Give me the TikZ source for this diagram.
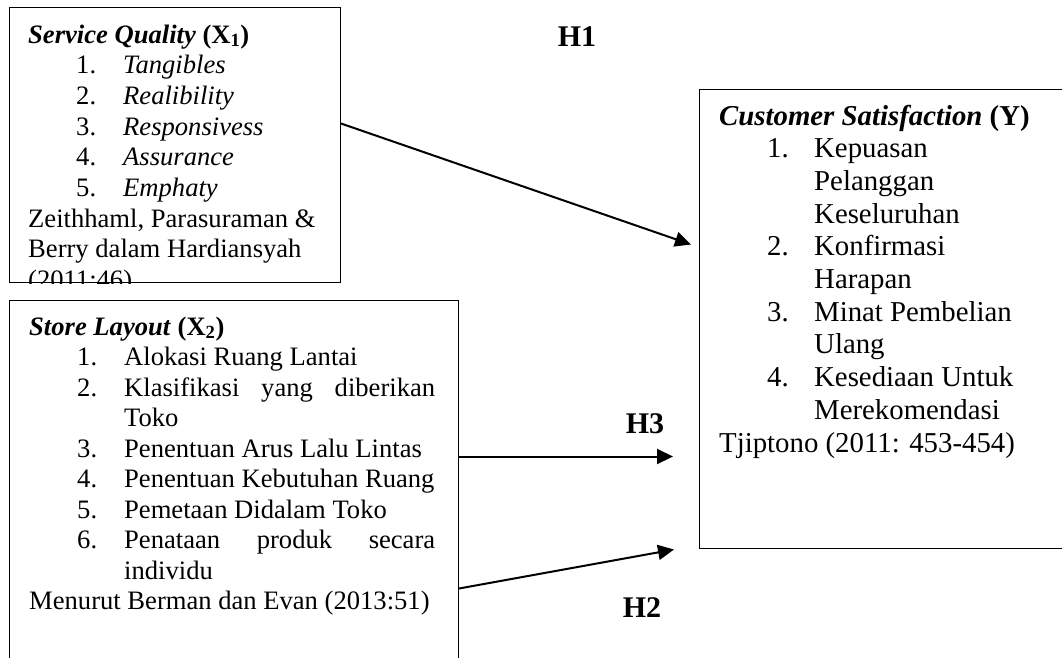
\documentclass[tikz,border=0pt]{standalone}
\usepackage{fontspec}
\setmainfont{Liberation Serif}
\usetikzlibrary{arrows.meta}
\newcommand\numitem[1]{\hspace*{48pt}\makebox[47pt][l]{#1}}
\newcommand\contline{\hspace*{95pt}}
\begin{document}
\begin{tikzpicture}[x=1pt,y=-1pt,
  box/.style={draw, line width=1pt, inner sep=0pt, anchor=north west},
  boxtext/.style={anchor=base west, inner sep=0pt},
  conn/.style={line width=2pt, -{Triangle[length=16pt,width=15pt]}},
  hyp/.style={font=\fontsize{30}{34}\selectfont\bfseries, inner sep=0pt}]
\clip (0,0) rectangle (1062,657);
\fill[white] (0,0) rectangle (1062,657);
% boxes
\node[box, minimum width=331pt, minimum height=275pt] (sq) at (9,7) {};
\node[box, minimum width=449pt, minimum height=400pt] (sl) at (9,300) {};
\node[box, minimum width=420pt, minimum height=459pt] (cs) at (699,89) {};
% box texts
\begin{scope}
\clip (sq.south west) rectangle (sq.north east);
\node[boxtext] (sqtext) at (28,43) {\parbox[t]{320pt}{\fontsize{26.6}{30.7}\selectfont
\textbf{\textit{Service Quality}} \textbf{(X\textsubscript{1})}\\
\numitem{1.}\textit{Tangibles}\\
\numitem{2.}\textit{Realibility}\\
\numitem{3.}\textit{Responsivess}\\
\numitem{4.}\textit{Assurance}\\
\numitem{5.}\textit{Emphaty}\\
Zeithhaml, Parasuraman \&\\
Berry dalam Hardiansyah\\
(2011:46)}};
\end{scope}
\node[boxtext] (sltext) at (29,335) {\parbox[t]{430pt}{\fontsize{26.6}{30.5}\selectfont
\textbf{\textit{Store Layout}} \textbf{(X\textsubscript{2})}\\
\numitem{1.}Alokasi Ruang Lantai\\
\numitem{2.}\makebox[311pt][s]{Klasifikasi yang diberikan}\\
\contline Toko\\
\numitem{3.}Penentuan Arus Lalu Lintas\\
\numitem{4.}Penentuan Kebutuhan Ruang\\
\numitem{5.}Pemetaan Didalam Toko\\
\numitem{6.}\makebox[311pt][s]{Penataan produk secara}\\
\contline individu\\
Menurut Berman dan Evan (2013:51)}};
\node[boxtext] (cstext) at (719,125) {\parbox[t]{340pt}{\fontsize{28.8}{32.7}\selectfont
\textbf{\textit{Customer Satisfaction}} \textbf{(Y)}\\
\numitem{1.}Kepuasan\\
\contline Pelanggan\\
\contline Keseluruhan\\
\numitem{2.}Konfirmasi\\
\contline Harapan\\
\numitem{3.}Minat Pembelian\\
\contline Ulang\\
\numitem{4.}Kesediaan Untuk\\
\contline Merekomendasi\\
Tjiptono (2011: 453-454)}};
% connectors
\draw[conn] ([yshift=21.5pt]sq.east) -- ([xshift=-8pt,yshift=74.5pt]cs.west);
\draw[conn] ([yshift=44pt]sl.east) -- ([xshift=-26pt,yshift=-137.5pt]cs.west);
\draw[conn] ([yshift=-88pt]sl.east) -- ([xshift=-25pt,yshift=-230.5pt]cs.west);
% hypothesis labels
\node[hyp] (h1) at (577,37) {H1};
\node[hyp] (h3) at (645,424) {H3};
\node[hyp] (h2) at (642,608) {H2};
\end{tikzpicture}
\end{document}
